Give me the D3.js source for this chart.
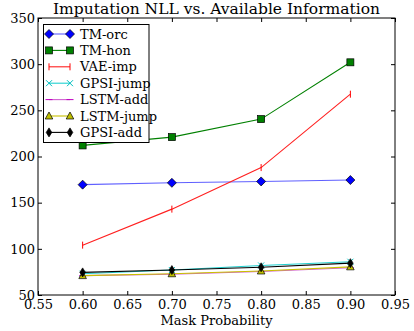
<!DOCTYPE html>
<html>
<head>
<meta charset="utf-8">
<script src="https://cdn.jsdelivr.net/npm/d3@7/dist/d3.min.js"></script>
<style>
  body { margin: 0; background: #fff; }
  text { font-family: "DejaVu Serif", serif; fill: #000; }
</style>
</head>
<body>
<div id="chart"></div>
<script>
var maskProb = [0.6, 0.7, 0.8, 0.9];

var tmOrc    = [169.5, 171.5, 173, 174.5];
var tmHon    = [212, 221, 240.5, 302];
var vaeImp   = [104, 143, 188, 267.5];
var gpsiJump = [73, 77, 82, 86];
var lstmAdd  = [71, 72.5, 75.5, 79.5];
var lstmJump = [71, 73, 76, 80.5];
var gpsiAdd  = [74.5, 77, 80, 84.5];

var xTicks = [0.55, 0.6, 0.65, 0.7, 0.75, 0.8, 0.85, 0.9, 0.95];
var yTicks = [50, 100, 150, 200, 250, 300, 350];

var series = [
  { name: 'TM-orc',    values: tmOrc,    color: '#0000ff', line: '#6060ff', marker: 'diamond' },
  { name: 'TM-hon',    values: tmHon,    color: '#008000', line: '#008000', marker: 'square' },
  { name: 'VAE-imp',   values: vaeImp,   color: '#ff0000', line: '#ff2020', marker: 'vline' },
  { name: 'GPSI-jump', values: gpsiJump, color: '#00bfbf', line: '#20d0d0', marker: 'x' },
  { name: 'LSTM-add',  values: lstmAdd,  color: '#bf00bf', line: '#d060d0', marker: 'hline' },
  { name: 'LSTM-jump', values: lstmJump, color: '#bfbf00', line: '#c8c000', marker: 'triangle' },
  { name: 'GPSI-add',  values: gpsiAdd,  color: '#000000', line: '#000000', marker: 'thindiamond' }
];

var W = 414, H = 331;
var m = { left: 38, right: 19, top: 18, bottom: 36 };

var svg = d3.select('#chart').append('svg')
  .attr('width', W).attr('height', H);

var x = d3.scaleLinear().domain([0.55, 0.95]).range([m.left, W - m.right]);
var y = d3.scaleLinear().domain([50, 350]).range([H - m.bottom, m.top]);

var g = svg.append('g');

// ticks (inward on all four sides)
var tl = 4;
g.append('g').attr('transform', 'translate(0,' + y(50) + ')')
  .call(d3.axisBottom(x).tickValues(xTicks).tickSize(-tl).tickPadding(5).tickFormat(d3.format('.2f')))
  .call(a => a.select('.domain').remove());
g.append('g').attr('transform', 'translate(0,' + y(350) + ')')
  .call(d3.axisTop(x).tickValues(xTicks).tickSize(-tl).tickFormat(''))
  .call(a => a.select('.domain').remove());
g.append('g').attr('transform', 'translate(' + x(0.55) + ',0)')
  .call(d3.axisLeft(y).tickValues(yTicks).tickSize(-tl).tickPadding(3))
  .call(a => a.select('.domain').remove());
g.append('g').attr('transform', 'translate(' + x(0.95) + ',0)')
  .call(d3.axisRight(y).tickValues(yTicks).tickSize(-tl).tickFormat(''))
  .call(a => a.select('.domain').remove());

g.selectAll('.tick text').style('font-family', '"DejaVu Serif", serif').style('font-size', '13px').attr('fill', '#000');
g.selectAll('.tick line').attr('stroke', '#000');

var line = d3.line().x((d, i) => x(maskProb[i])).y(d => y(d));

function drawMarker(sel, type, color, cx, cy) {
  if (type === 'diamond') {
    sel.append('path').attr('d', 'M' + cx + ',' + (cy - 4.5) + 'L' + (cx + 4.5) + ',' + cy + 'L' + cx + ',' + (cy + 4.5) + 'L' + (cx - 4.5) + ',' + cy + 'Z')
      .attr('fill', color).attr('stroke', '#000').attr('stroke-width', 0.7);
  } else if (type === 'thindiamond') {
    sel.append('path').attr('d', 'M' + cx + ',' + (cy - 4.5) + 'L' + (cx + 2.8) + ',' + cy + 'L' + cx + ',' + (cy + 4.5) + 'L' + (cx - 2.8) + ',' + cy + 'Z')
      .attr('fill', color).attr('stroke', '#000').attr('stroke-width', 0.7);
  } else if (type === 'square') {
    sel.append('rect').attr('x', cx - 3.5).attr('y', cy - 3.5).attr('width', 7).attr('height', 7)
      .attr('fill', color).attr('stroke', '#000').attr('stroke-width', 0.7);
  } else if (type === 'triangle') {
    sel.append('path').attr('d', 'M' + cx + ',' + (cy - 4) + 'L' + (cx + 3.8) + ',' + (cy + 3) + 'L' + (cx - 3.8) + ',' + (cy + 3) + 'Z')
      .attr('fill', color).attr('stroke', '#000').attr('stroke-width', 0.7);
  } else if (type === 'vline') {
    sel.append('line').attr('x1', cx).attr('x2', cx).attr('y1', cy - 3.5).attr('y2', cy + 3.5)
      .attr('stroke', color).attr('stroke-width', 1);
  } else if (type === 'hline') {
    sel.append('line').attr('x1', cx - 3.5).attr('x2', cx + 3.5).attr('y1', cy).attr('y2', cy)
      .attr('stroke', color).attr('stroke-width', 1);
  } else if (type === 'x') {
    sel.append('path').attr('d', 'M' + (cx - 3) + ',' + (cy - 3) + 'L' + (cx + 3) + ',' + (cy + 3) + 'M' + (cx - 3) + ',' + (cy + 3) + 'L' + (cx + 3) + ',' + (cy - 3))
      .attr('stroke', color).attr('stroke-width', 1);
  }
}

var gLines = svg.append('g');
series.forEach(function(s) {
  var sg = gLines.append('g');
  sg.append('path').attr('d', line(s.values)).attr('fill', 'none')
    .attr('stroke', s.line).attr('stroke-width', 1.1);
  s.values.forEach(function(v, i) {
    drawMarker(sg, s.marker, s.color, x(maskProb[i]), y(v));
  });
});

// frame
svg.append('rect').attr('x', x(0.55)).attr('y', y(350))
  .attr('width', x(0.95) - x(0.55)).attr('height', y(50) - y(350))
  .attr('fill', 'none').attr('stroke', '#000').attr('stroke-width', 1);

// legend
var lg = svg.append('g');
lg.append('rect').attr('x', 43.5).attr('y', 24.5).attr('width', 105.5).attr('height', 118)
  .attr('fill', '#fff').attr('stroke', '#000').attr('stroke-width', 1);
series.forEach(function(s, i) {
  var ly = 34 + i * 16.4;
  lg.append('line').attr('x1', 49).attr('x2', 70).attr('y1', ly).attr('y2', ly)
    .attr('stroke', s.line).attr('stroke-width', 1.1);
  drawMarker(lg, s.marker, s.color, 49, ly);
  drawMarker(lg, s.marker, s.color, 70, ly);
  lg.append('text').attr('x', 80).attr('y', ly).attr('dy', '0.35em')
    .style('font-size', '13px').text(s.name);
});

// title and x label
svg.append('text').attr('x', (x(0.55) + x(0.95)) / 2).attr('y', 14)
  .attr('text-anchor', 'middle').style('font-size', '15.5px')
  .text('Imputation NLL vs. Available Information');
svg.append('text').attr('x', (x(0.55) + x(0.95)) / 2).attr('y', 325)
  .attr('text-anchor', 'middle').style('font-size', '13px')
  .text('Mask Probability');
</script>
</body>
</html>
